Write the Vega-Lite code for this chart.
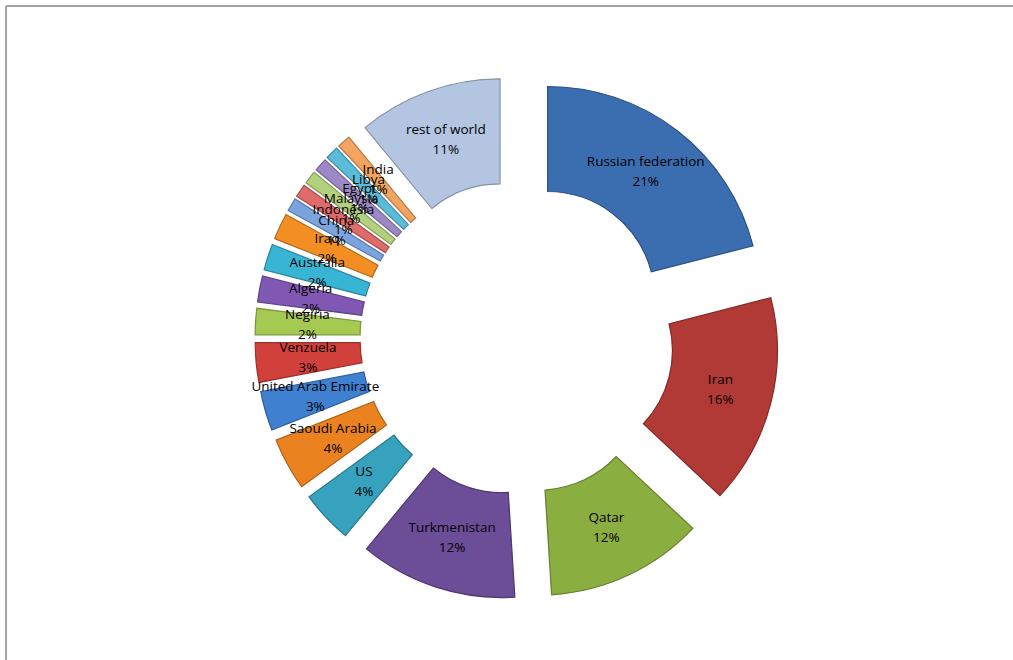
{
  "$schema": "https://vega.github.io/schema/vega-lite/v6.json",
  "autosize": "none",
  "width": 1007,
  "height": 654,
  "padding": {"left": 6, "top": 6, "right": 0, "bottom": 0},
  "background": "white",
  "datasets": {
    "frame": [{"id": 1}],
    "gas": [
      {"rank": 1, "country": "Russian federation", "share": 21, "pct": "21%"},
      {"rank": 2, "country": "Iran", "share": 16, "pct": "16%"},
      {"rank": 3, "country": "Qatar", "share": 12, "pct": "12%"},
      {"rank": 4, "country": "Turkmenistan", "share": 12, "pct": "12%"},
      {"rank": 5, "country": "US", "share": 4, "pct": "4%"},
      {"rank": 6, "country": "Saoudi Arabia", "share": 4, "pct": "4%"},
      {"rank": 7, "country": "United Arab Emirate", "share": 3, "pct": "3%"},
      {"rank": 8, "country": "Venzuela", "share": 3, "pct": "3%"},
      {"rank": 9, "country": "Negiria", "share": 2, "pct": "2%"},
      {"rank": 10, "country": "Algeria", "share": 2, "pct": "2%"},
      {"rank": 11, "country": "Australia", "share": 2, "pct": "2%"},
      {"rank": 12, "country": "Iraq", "share": 2, "pct": "2%"},
      {"rank": 13, "country": "China", "share": 1, "pct": "1%"},
      {"rank": 14, "country": "Indonesia", "share": 1, "pct": "1%"},
      {"rank": 15, "country": "Malaysia", "share": 1, "pct": "1%"},
      {"rank": 16, "country": "Egypt", "share": 1, "pct": "1%"},
      {"rank": 17, "country": "Libya", "share": 1, "pct": "1%"},
      {"rank": 18, "country": "India", "share": 1, "pct": "1%"},
      {"rank": 19, "country": "rest of world", "share": 11, "pct": "11%"}
    ]
  },
  "layer": [
    {
      "data": {"name": "frame"},
      "mark": {"type": "rule", "stroke": "#8c8c8c", "strokeWidth": 1.5},
      "encoding": {
        "x": {"value": 0},
        "x2": {"value": 1020},
        "y": {"value": 0}
      }
    },
    {
      "data": {"name": "frame"},
      "mark": {"type": "rule", "stroke": "#8c8c8c", "strokeWidth": 1.5},
      "encoding": {
        "x": {"value": 0},
        "y": {"value": 0},
        "y2": {"value": 670}
      }
    },
    {
      "data": {"name": "gas"},
      "mark": {
        "type": "arc",
        "radius": 212,
        "innerRadius": 107,
        "strokeWidth": 1.2,
        "xOffset": {"expr": "7.5 + 50*sin((scale('theta', datum.share_start)+scale('theta', datum.share_end))/2)"},
        "yOffset": {"expr": "5 - 50*cos((scale('theta', datum.share_start)+scale('theta', datum.share_end))/2)"}
      },
      "encoding": {
        "theta": {"field": "share", "type": "quantitative", "stack": true},
        "order": {"field": "rank", "type": "quantitative"},
        "color": {
          "field": "country",
          "type": "nominal",
          "legend": null,
          "scale": {
            "domain": ["Russian federation", "Iran", "Qatar", "Turkmenistan", "US", "Saoudi Arabia", "United Arab Emirate", "Venzuela", "Negiria", "Algeria", "Australia", "Iraq", "China", "Indonesia", "Malaysia", "Egypt", "Libya", "India", "rest of world"],
            "range": ["#3b6eb0", "#b23a36", "#8aae3f", "#6b4d98", "#36a2bd", "#e9821f", "#3f80d0", "#d2403b", "#a6c951", "#8058b3", "#38b5d5", "#f38f22", "#7ba4de", "#e06b6b", "#b3d17c", "#9d88c6", "#5bbcd9", "#f3a460", "#b4c5e2"]
          }
        },
        "stroke": {
          "field": "country",
          "type": "nominal",
          "legend": null,
          "scale": {
            "domain": ["Russian federation", "Iran", "Qatar", "Turkmenistan", "US", "Saoudi Arabia", "United Arab Emirate", "Venzuela", "Negiria", "Algeria", "Australia", "Iraq", "China", "Indonesia", "Malaysia", "Egypt", "Libya", "India", "rest of world"],
            "range": ["#2a5184", "#832a27", "#66812e", "#4e3870", "#28778b", "#ad6017", "#2e5e9a", "#9b2f2b", "#7b953c", "#5e4185", "#29869e", "#b46a19", "#5b79a4", "#a64f4f", "#859b5c", "#746592", "#438ba0", "#b47947", "#8592a7"]
          }
        }
      }
    },
    {
      "data": {"name": "gas"},
      "mark": {
        "type": "text",
        "radius": 160,
        "dy": -10,
        "font": "Open Sans",
        "fontSize": 13.5,
        "color": "black",
        "xOffset": {"expr": "7.5 + 50*sin((scale('theta', datum.share_start)+scale('theta', datum.share_end))/2)"},
        "yOffset": {"expr": "5 - 50*cos((scale('theta', datum.share_start)+scale('theta', datum.share_end))/2)"}
      },
      "encoding": {
        "theta": {"field": "share", "type": "quantitative", "stack": true},
        "order": {"field": "rank", "type": "quantitative"},
        "text": {"field": "country", "type": "nominal"}
      }
    },
    {
      "data": {"name": "gas"},
      "mark": {
        "type": "text",
        "radius": 160,
        "dy": 10,
        "font": "Open Sans",
        "fontSize": 13.5,
        "color": "black",
        "xOffset": {"expr": "7.5 + 50*sin((scale('theta', datum.share_start)+scale('theta', datum.share_end))/2)"},
        "yOffset": {"expr": "5 - 50*cos((scale('theta', datum.share_start)+scale('theta', datum.share_end))/2)"}
      },
      "encoding": {
        "theta": {"field": "share", "type": "quantitative", "stack": true},
        "order": {"field": "rank", "type": "quantitative"},
        "text": {"field": "pct", "type": "nominal"}
      }
    }
  ]
}
